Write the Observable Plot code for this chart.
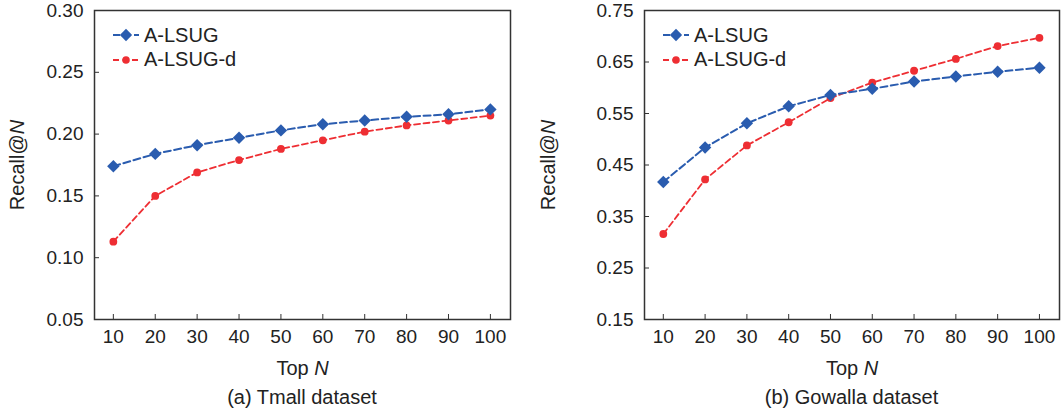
<!DOCTYPE html>
<html><head><meta charset="utf-8">
<script src="https://cdn.jsdelivr.net/npm/d3@7"></script>
<script src="https://cdn.jsdelivr.net/npm/@observablehq/plot@0.6"></script>
<style>
body{margin:0;background:#fff;font-family:"Liberation Sans",Arial,sans-serif;}
#wrap{position:relative;width:1062px;height:414px;display:flex;overflow:hidden;}
.panel{position:relative;width:531px;height:414px;}
.panel > svg{display:block;}
.cap{position:absolute;top:387px;font-size:20px;line-height:20px;color:#222;text-align:center;white-space:nowrap;transform:translateX(-50%);}
.legend{position:absolute;font-size:20px;color:#222;}
.legend div{display:flex;align-items:center;height:24.5px;}
.legend svg{margin-right:5px;}
</style></head><body>
<div id="wrap"><div class="panel" id="pa"></div><div class="panel" id="pb"></div></div>
<script>
// ---- data ----
const topN = [10, 20, 30, 40, 50, 60, 70, 80, 90, 100];
const seriesNames = ["A-LSUG", "A-LSUG-d"];
const tmallALSUG  = [0.174, 0.184, 0.191, 0.197, 0.203, 0.208, 0.211, 0.214, 0.216, 0.220];
const tmallALSUGd = [0.113, 0.150, 0.169, 0.179, 0.188, 0.195, 0.202, 0.207, 0.211, 0.215];
const gowallaALSUG  = [0.417, 0.484, 0.531, 0.564, 0.586, 0.598, 0.612, 0.622, 0.631, 0.639];
const gowallaALSUGd = [0.316, 0.422, 0.488, 0.533, 0.580, 0.610, 0.633, 0.656, 0.681, 0.697];
const tmallYTicks   = [0.05, 0.10, 0.15, 0.20, 0.25, 0.30];
const gowallaYTicks = [0.15, 0.25, 0.35, 0.45, 0.55, 0.65, 0.75];
const xLabel = "Top N";
const yLabel = "Recall@N";
const captions = ["(a) Tmall dataset", "(b) Gowalla dataset"];

const colors = {"A-LSUG": "#2a5caf", "A-LSUG-d": "#ee2e33"};

function rows(a, b) {
  return topN.flatMap((n, i) => [
    {n, v: a[i], s: seriesNames[0]},
    {n, v: b[i], s: seriesNames[1]}
  ]);
}

function italicN(svg) {
  svg.querySelectorAll('g[aria-label$="axis label"] text').forEach(t => {
    const txt = t.textContent;
    if (txt.endsWith("N")) {
      t.textContent = txt.slice(0, -1);
      const ts = document.createElementNS("http://www.w3.org/2000/svg", "tspan");
      ts.setAttribute("font-style", "italic");
      ts.textContent = "N";
      t.appendChild(ts);
    }
  });
}

function panel(el, data, yDomain, yTicks, mLeft, mRight, caption) {
  const blue = data.filter(d => d.s === seriesNames[0]);
  const red = data.filter(d => d.s === seriesNames[1]);
  const svg = Plot.plot({
    width: 531, height: 380,
    marginLeft: mLeft, marginRight: mRight, marginTop: 10, marginBottom: 61,
    style: {fontFamily: "'Liberation Sans', Arial, sans-serif", color: "#222", background: "transparent", overflow: "visible"},
    x: {domain: [5.5, 104.8]},
    y: {domain: yDomain},
    marks: [
      Plot.axisX({ticks: topN, tickSize: -5, tickPadding: 15, tickFormat: d => String(d), fontSize: 19,
        label: xLabel, labelAnchor: "center", labelOffset: 55, labelArrow: "none", stroke: "#333"}),
      Plot.axisY({ticks: yTicks, tickSize: -5, tickPadding: 16, tickFormat: d => d.toFixed(2), fontSize: 19,
        label: yLabel, labelAnchor: "center", labelOffset: mLeft - 9, labelArrow: "none", stroke: "#333"}),
      Plot.line(red, {x: "n", y: "v", stroke: colors["A-LSUG-d"], strokeWidth: 1.8, strokeDasharray: "6,3.5"}),
      Plot.dot(red, {x: "n", y: "v", fill: colors["A-LSUG-d"], r: 3.9, symbol: "circle"}),
      Plot.line(blue, {x: "n", y: "v", stroke: colors["A-LSUG"], strokeWidth: 2, strokeDasharray: "7,3.5"}),
      Plot.dot(blue, {x: "n", y: "v", fill: colors["A-LSUG"], r: 5.6, symbol: "diamond2"}),
      Plot.frame({stroke: "#333", strokeWidth: 1.5})
    ]
  });
  svg.style.fontSize = "19px";
  svg.querySelectorAll("g[aria-label]").forEach(g => {
    const a = g.getAttribute("aria-label");
    if (/tick label/.test(a)) {
      g.setAttribute("font-size", "19");
      g.querySelectorAll("text").forEach(t => t.style.fontSize = "19px");
    } else if (/axis label/.test(a)) {
      g.setAttribute("font-size", "20");
      g.querySelectorAll("text").forEach(t => t.style.fontSize = "20px");
    }
  });
  italicN(svg);
  el.appendChild(svg);

  // caption
  const cap = document.createElement("div");
  cap.className = "cap";
  cap.style.left = (mLeft + (531 - mLeft - mRight) / 2) + "px";
  cap.textContent = caption;
  el.appendChild(cap);

  // legend
  const lg = document.createElement("div");
  lg.className = "legend";
  lg.style.left = (mLeft + 19) + "px";
  lg.style.top = "23px";
  seriesNames.forEach((name, i) => {
    const row = document.createElement("div");
    const sw = d3.create("svg").attr("width", 26).attr("height", 14);
    sw.append("line").attr("x1", 0).attr("x2", 26).attr("y1", 7).attr("y2", 7)
      .attr("stroke", colors[name]).attr("stroke-width", i ? 1.8 : 2).attr("stroke-dasharray", i ? "6,3.5" : "7,3.5");
    sw.append("path").attr("transform", "translate(13,7)")
      .attr("d", d3.symbol(i ? d3.symbolCircle : d3.symbolDiamond2, i ? 45 : 96)())
      .attr("fill", colors[name]);
    row.appendChild(sw.node());
    const tx = document.createElement("span");
    tx.textContent = name;
    row.appendChild(tx);
    lg.appendChild(row);
  });
  el.appendChild(lg);
}

panel(document.getElementById("pa"), rows(tmallALSUG, tmallALSUGd), [0.05, 0.30], tmallYTicks, 94, 21, captions[0]);
panel(document.getElementById("pb"), rows(gowallaALSUG, gowallaALSUGd), [0.15, 0.75], gowallaYTicks, 113, 3, captions[1]);
</script>
</body></html>
